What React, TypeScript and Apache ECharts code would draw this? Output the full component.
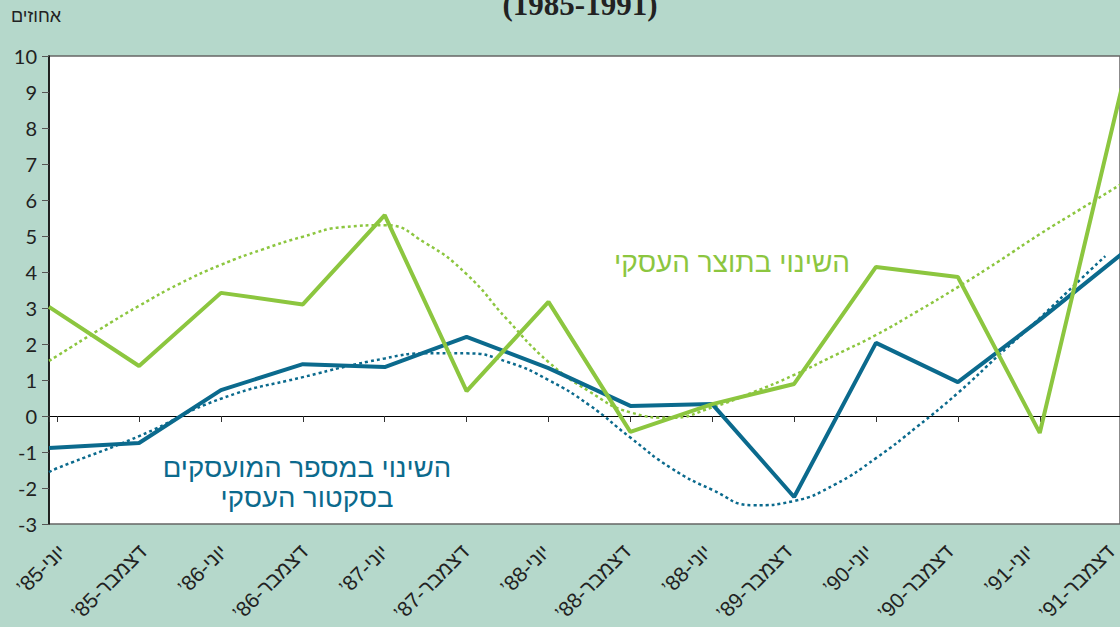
import React, { useEffect, useRef } from "react";
import * as echarts from "echarts";

// Tick labels (visual order for an LTR base direction)
const categories = [
  "’85-יוני", "’85-דצמבר", "’86-יוני", "’86-דצמבר", "’87-יוני", "’87-דצמבר", "’88-יוני",
  "’88-דצמבר", "’88-יוני", "’89-דצמבר", "’90-יוני", "’90-דצמבר", "’91-יוני", "’91-דצמבר",
];

// Positions (in category units) of the solid series points; first is the plot's left edge
const solidX = [-0.1, 1, 2, 3, 4, 5, 6, 7, 8, 9, 10, 11, 12, 13];
const outputChange = [3.03, 1.39, 3.42, 3.1, 5.58, 0.69, 3.17, -0.44, 0.33, 0.89, 4.14, 3.86, -0.47, 9.1];
const employChange = [-0.89, -0.75, 0.72, 1.44, 1.36, 2.2, 1.33, 0.28, 0.33, -2.25, 2.03, 0.94, 2.67, 4.5];

// Trend lines
const outputTrendX = [-0.1, 0, 0.5, 1, 1.5, 2, 2.5, 3, 3.5, 4, 4.5, 5, 5.5, 6, 6.5, 7, 7.5, 8, 8.5, 9, 9.5, 10, 10.5, 11, 11.5, 12, 12.5, 12.98];
const outputTrend = [1.53, 1.67, 2.38, 3.06, 3.68, 4.2, 4.62, 4.98, 5.25, 5.3, 4.8, 3.94, 2.67, 1.5, 0.68, 0.1, -0.05, 0.24, 0.66, 1.14, 1.69, 2.25, 2.9, 3.58, 4.3, 5.05, 5.75, 6.42];
const employTrendX = [-0.1, 0, 1, 2, 3, 4, 4.5, 5, 5.5, 6, 6.5, 7, 7.5, 8, 8.5, 9, 9.5, 10, 10.5, 11, 11.5, 12, 12.5, 12.8];
const employTrend = [-1.56, -1.45, -0.56, 0.48, 1.08, 1.6, 1.74, 1.74, 1.5, 1.0, 0.3, -0.6, -1.45, -2.05, -2.48, -2.36, -1.9, -1.17, -0.3, 0.64, 1.69, 2.72, 3.8, 4.44];

const yTicksMin = -3;
const yTicksMax = 10;

const GREEN = "#8cc63f";
const BLUE = "#0b6a8d";
const HEB = "'Liberation Sans', 'DejaVu Sans', sans-serif";

const pairs = (xs: number[], ys: number[]) => xs.map((x, i) => [x, ys[i]]);

export default function App() {
  const ref = useRef<HTMLDivElement>(null);
  useEffect(() => {
    if (!ref.current) return;
    const chart = echarts.init(ref.current, undefined, { renderer: "svg" });
    chart.setOption({
      animation: false,
      backgroundColor: "#b5d8cb",
      grid: [
        { left: 49, right: 0, top: 56, bottom: 103, show: true, backgroundColor: "#ffffff", borderColor: "#666", borderWidth: 1.5 },
        { left: 62, right: -7, top: 56, bottom: 103, show: false },
      ],
      xAxis: [
        {
          type: "value", gridIndex: 0, min: -0.1, max: 12.98, splitNumber: 13, minInterval: 1, maxInterval: 1,
          axisLine: { onZero: true, lineStyle: { color: "#000", width: 1 } },
          axisTick: { show: true, length: 6, lineStyle: { color: "#333", width: 1 } },
          axisLabel: { show: false }, splitLine: { show: false },
        },
        {
          type: "category", gridIndex: 1, data: categories, boundaryGap: false,
          axisLine: { show: false }, axisTick: { show: false }, splitLine: { show: false },
          axisLabel: { interval: 0, rotate: 45, margin: 24, fontSize: 21, color: "#222", fontFamily: HEB },
        },
      ],
      yAxis: [
        {
          type: "value", gridIndex: 0, min: yTicksMin, max: yTicksMax, interval: 1,
          axisLine: { show: true, onZero: false, lineStyle: { color: "#000", width: 1.5 } },
          axisTick: { show: true, length: 7, lineStyle: { color: "#555" } },
          axisLabel: { margin: 12, fontSize: 20, color: "#222", fontFamily: "Lato, sans-serif" },
          splitLine: { show: false },
        },
        { type: "value", gridIndex: 1, min: 0, max: 1, show: false },
      ],
      series: [
        {
          name: "trend-output", type: "line", xAxisIndex: 0, yAxisIndex: 0, smooth: 0.5, symbol: "none",
          data: pairs(outputTrendX, outputTrend), lineStyle: { color: GREEN, width: 2.5, type: [3, 3] }, z: 2,
        },
        {
          name: "trend-employ", type: "line", xAxisIndex: 0, yAxisIndex: 0, smooth: 0.5, symbol: "none",
          data: pairs(employTrendX, employTrend), lineStyle: { color: BLUE, width: 2.5, type: [3, 3] }, z: 2,
        },
        {
          name: "employ", type: "line", xAxisIndex: 0, yAxisIndex: 0, symbol: "none",
          data: pairs(solidX, employChange), lineStyle: { color: BLUE, width: 4 }, z: 3,
        },
        {
          name: "output", type: "line", xAxisIndex: 0, yAxisIndex: 0, symbol: "none",
          data: pairs(solidX, outputChange), lineStyle: { color: GREEN, width: 4 }, z: 4,
        },
      ],
      graphic: [
        { type: "text", left: 11, top: 7, style: { text: "אחוזים", fill: "#222", font: `18px ${HEB}` } },
        {
          type: "text", x: 580, y: -11,
          style: { text: "(1985-1991)", fill: "#222", font: "bold 31px 'Liberation Serif', serif", align: "center", verticalAlign: "top" },
        },
        {
          type: "text", x: 732, y: 262,
          style: { text: "השינוי בתוצר העסקי", fill: GREEN, font: `28px ${HEB}`, align: "center", verticalAlign: "middle" },
        },
        {
          type: "text", x: 307, y: 482,
          style: { text: "השינוי במספר המועסקים\nבסקטור העסקי", fill: BLUE, font: `27.5px ${HEB}`, align: "center", verticalAlign: "middle", lineHeight: 30 },
        },
      ],
    });
    return () => chart.dispose();
  }, []);
  return <div ref={ref} style={{ position: "fixed", left: 0, top: 0, width: 1120, height: 627 }} />;
}
